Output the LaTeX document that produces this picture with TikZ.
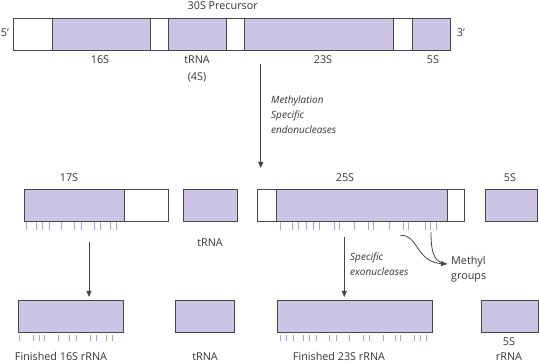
\documentclass[tikz,border=0pt]{standalone}
\usepackage{fontspec}
\setmainfont{Open Sans}
\usetikzlibrary{arrows.meta}

\definecolor{rnafill}{RGB}{204,196,228}
\definecolor{tickc}{RGB}{172,162,222}
\definecolor{linec}{RGB}{70,70,70}

\tikzset{
    rna/.style={draw=linec,fill=rnafill,line width=0.8pt,minimum height=32pt,inner sep=0pt,anchor=north west},
    spacer/.style={rna,fill=white},
    lbl/.style={font=\fontsize{10.8}{15}\selectfont,text=black!80,inner sep=0pt},
    note/.style={lbl,font=\fontsize{10}{15}\selectfont\itshape,align=left,anchor=north west},
    tick/.style={tickc,line width=0.6pt},
    arr/.style={linec,line width=0.8pt,-{Triangle[length=6pt,width=5pt]}}
}

\begin{document}
\begin{tikzpicture}[x=1pt,y=-1pt]
    \useasboundingbox (0,0) rectangle (539,363);

    % 30S precursor
    \node[spacer,minimum width=38.7pt] (w1) at (13,18) {};
    \node[rna,minimum width=98pt] (p16) at (51.7,18) {};
    \node[spacer,minimum width=18.6pt] (w2) at (149.7,18) {};
    \node[rna,minimum width=57.4pt] (ptrna) at (168.3,18) {};
    \node[spacer,minimum width=18.3pt] (w3) at (225.7,18) {};
    \node[rna,minimum width=149.3pt] (p23) at (244,18) {};
    \node[spacer,minimum width=19pt] (w4) at (393.3,18) {};
    \node[rna,minimum width=37.7pt] (p5) at (412.3,18) {};

    \node[lbl] (title) at (222.7,5.5) {30S Precursor};
    \node[lbl] (five) at (5,33) {5’};
    \node[lbl] (three) at (461,33) {3’};
    \node[lbl] (l16) at (100,60) {16S};
    \node[lbl] (ltrna) at (197,60) {tRNA};
    \node[lbl] (l4s) at (197,77) {(4S)};
    \node[lbl] (l23) at (323,60) {23S};
    \node[lbl] (l5) at (433,60) {5S};

    % cleavage
    \coordinate (cut1) at (260.7,64);
    \coordinate (cut2) at (260.7,168);
    \draw[arr] (cut1) -- (cut2);
    \node[note] (endo) at (271,96) {Methylation\\Specific\\endonucleases};

    % intermediates
    \node[rna,minimum width=100pt] (p17) at (24,189) {};
    \node[spacer,minimum width=44pt] (w17) at (124,189) {};
    \node[rna,minimum width=54pt] (mtrna) at (183,189) {};
    \node[spacer,minimum width=19pt] (w25a) at (257,189) {};
    \node[rna,minimum width=170.7pt] (p25) at (276,189) {};
    \node[spacer,minimum width=17.3pt] (w25b) at (446.7,189) {};
    \node[rna,minimum width=52.3pt] (m5) at (485,189) {};

    \node[lbl] (l17) at (69,178) {17S};
    \node[lbl] (lmtrna) at (210,243) {tRNA};
    \node[lbl] (l25) at (345,178) {25S};
    \node[lbl] (lm5) at (510,178) {5S};

    \foreach \t in {26,36.7,42.7,49.3,61.7,74,81.7,94.3,100,110,116.7}
        \draw[tick] (\t,222.5) -- (\t,230);
    \foreach \t in {280.7,292.7,298.3,306.7,313.3,319.3,334,339.3,354,368.3,373.3,389.3,403.3,408.3,425.7,430.7,436.7}
        \draw[tick] (\t,222.5) -- (\t,230);

    % trimming
    \coordinate (trim1) at (89,242);
    \coordinate (trim2) at (89,297);
    \draw[arr] (trim1) -- (trim2);
    \coordinate (exo1) at (344.3,237);
    \coordinate (exo2) at (344.3,297);
    \draw[arr] (exo1) -- (exo2);
    \node[note] (exo) at (350,253) {Specific\\exonucleases};

    % methyl groups
    \coordinate (me1) at (400.5,235.5);
    \coordinate (me2) at (431,232);
    \coordinate (metip) at (447,264);
    \draw[linec,line width=0.8pt] (me2) .. controls (431,258) and (436,262) .. (metip);
    \draw[arr] (me1) .. controls (418,234) and (416,262) .. (metip);
    \node[lbl,align=left,anchor=north west] (methyl) at (451,256) {Methyl\\groups};

    % finished products
    \node[rna,minimum width=105pt] (f16) at (18.3,300.5) {};
    \node[rna,minimum width=58.5pt] (ftrna) at (175.4,300.5) {};
    \node[rna,minimum width=154.8pt] (f23) at (276.9,300.5) {};
    \node[rna,minimum width=57pt] (f5) at (480.9,300.5) {};

    \foreach \t in {19.3,33,38.8,44,58.3,69.7,76.7,90,96,106.7,112.2}
        \draw[tick] (\t,335) -- (\t,341.5);
    \foreach \t in {280,286.7,293.3,303.3,309.3,316,329.3,336,349.3,363.3,369.3,383.3,395,400,414,420,426}
        \draw[tick] (\t,335) -- (\t,341.5);

    \node[lbl] (lf16) at (61,356.5) {Finished 16S rRNA};
    \node[lbl] (lftrna) at (205,356.5) {tRNA};
    \node[lbl] (lf23) at (339,356.5) {Finished 23S rRNA};
    \node[lbl] (lf5a) at (509,342) {5S};
    \node[lbl] (lf5b) at (509,356.5) {rRNA};
\end{tikzpicture}
\end{document}
